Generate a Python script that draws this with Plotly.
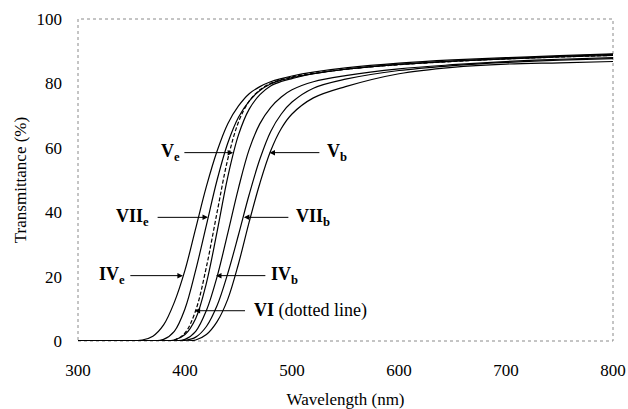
import plotly.graph_objects as go

wavelength = [300, 340, 360, 370, 380, 390, 400, 410, 420, 430, 440, 450, 460, 470,
              480, 490, 500, 520, 550, 600, 650, 700, 750, 800]

IVe  = [0, 0, 0.3, 1.5, 5, 12, 22, 35, 48, 59, 67.5, 73, 76.8, 79, 80.5, 81.5, 82.3, 83.5, 84.8, 86.3, 87.3, 88.0, 88.6, 89.2]
VIIe = [0, 0, 0, 0, 0.5, 3, 10, 22, 36, 50, 61.5, 69.5, 74.5, 77.8, 79.8, 81.0, 81.8, 83.0, 84.4, 85.9, 86.9, 87.6, 88.2, 88.7]
VI   = [0, 0, 0, 0, 0, 0.3, 2.5, 9.5, 23, 40, 56.5, 68, 74.5, 78, 80.0, 81.2, 82.0, 83.1, 84.4, 85.8, 86.8, 87.6, 88.2, 88.7]
Ve   = [0, 0, 0, 0, 0, 0.3, 2, 7, 18, 34, 51, 64, 72, 76.5, 79.2, 80.6, 81.5, 83.0, 84.4, 85.9, 86.9, 87.7, 88.4, 89.0]
IVb  = [0, 0, 0, 0, 0, 0, 0.5, 3, 9.5, 20, 33.5, 47.5, 59.5, 67.5, 72.5, 75.8, 78.0, 80.5, 82.4, 84.5, 85.8, 86.8, 87.5, 88.0]
VIIb = [0, 0, 0, 0, 0, 0, 0.2, 1.2, 4.5, 11, 21, 33, 45.5, 56.5, 65, 70.5, 74.2, 78.5, 81.3, 84.0, 85.5, 86.5, 87.2, 87.7]
Vb   = [0, 0, 0, 0, 0, 0, 0, 0.3, 2, 6, 13, 24, 37, 49, 59, 66, 70.5, 75.5, 79.0, 83.0, 85.0, 86.0, 86.4, 86.8]

series = [("IVe", IVe, "solid"), ("VIIe", VIIe, "solid"), ("VI", VI, "4px,2px"),
          ("Ve", Ve, "solid"), ("IVb", IVb, "solid"), ("VIIb", VIIb, "solid"), ("Vb", Vb, "solid")]

x_ticks = [300, 400, 500, 600, 700, 800]
y_ticks = [0, 20, 40, 60, 80, 100]

serif = "Liberation Serif, Times New Roman, Times, serif"

fig = go.Figure()
for name, vals, dash in series:
    fig.add_trace(go.Scatter(x=wavelength, y=vals, mode="lines", name=name,
                             line=dict(color="black", width=1.2, dash=dash, shape="spline", smoothing=1.0),
                             showlegend=False, hoverinfo="skip"))


def label(x, y, text, xanchor="center"):
    fig.add_annotation(x=x, y=y, xref="x", yref="y", text=text, showarrow=False,
                       xanchor=xanchor, yanchor="middle",
                       font=dict(family=serif, size=18, color="black"))


def arrow(x_tip, y, x_tail):
    fig.add_annotation(x=x_tip, y=y, ax=x_tail, ay=y, xref="x", yref="y", axref="x", ayref="y",
                       text="", showarrow=True, arrowhead=2, arrowsize=1.1, arrowwidth=1,
                       arrowcolor="black", standoff=0)


# V_e / V_b
label(386, 58.5, "<b>V<sub>e</sub></b>")
arrow(445, 58.5, 398)
label(542, 58.5, "<b>V<sub>b</sub></b>")
arrow(479, 58.5, 527)
# VII
label(351, 38.4, "<b>VII<sub>e</sub></b>")
arrow(421.5, 38.4, 373)
label(520, 38.4, "<b>VII<sub>b</sub></b>")
arrow(455, 38.4, 498)
# IV
label(332, 20.3, "<b>IV<sub>e</sub></b>")
arrow(398, 20.3, 347.5)
label(493, 20.3, "<b>IV<sub>b</sub></b>")
arrow(429, 20.3, 476.5)
# VI
label(462.5, 9.4, "<b>VI</b> (dotted line)", xanchor="left")
arrow(409, 9.4, 457.5)

fig.add_shape(type="rect", xref="paper", yref="paper", x0=0, y0=0, x1=1, y1=1,
              line=dict(color="#8a8a8a", width=1, dash="dot"), layer="below")

fig.update_layout(
    width=628, height=409,
    margin=dict(l=78, r=15, t=19, b=68, autoexpand=False),
    paper_bgcolor="white", plot_bgcolor="white",
    font=dict(family=serif, size=17, color="black"),
    hovermode=False,
    xaxis=dict(range=[300, 800], tickvals=x_ticks, showgrid=False, zeroline=False,
               showline=False, ticks="", ticklabelstandoff=17, automargin=False,
               title=dict(text="Wavelength (nm)", font=dict(size=17), standoff=19)),
    yaxis=dict(range=[0, 100], tickvals=y_ticks, showgrid=False, zeroline=False,
               showline=False, ticks="", ticklabelstandoff=15, automargin=False,
               title=dict(text="Transmittance (%)", font=dict(size=17), standoff=5)),
)

fig.write_html("out.html", config={"displayModeBar": False},
               post_script="document.body.style.margin='0';document.body.style.overflow='hidden';")
